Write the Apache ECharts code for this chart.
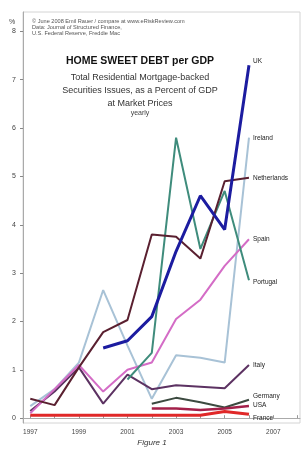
<!DOCTYPE html>
<html>
<head>
<meta charset="utf-8">
<script src="https://cdn.jsdelivr.net/npm/echarts@6/dist/echarts.min.js"></script>
<style>
html,body{margin:0;padding:0;background:#fff;}
#chart{width:308px;height:450px;}
</style>
</head>
<body>
<div id="chart"></div>
<script>
// years on the x axis
var years = [1997, 1998, 1999, 2000, 2001, 2002, 2003, 2004, 2005, 2006];
var xTicks = [1997, 1999, 2001, 2003, 2005, 2007];
var yTicks = [0, 1, 2, 3, 4, 5, 6, 7, 8];

// MBS issues, % of GDP
var uk          = [null, null, null, 1.45, 1.6, 2.1, 3.45, 4.6, 3.9, 7.3];
var ireland     = [0.25, 0.6, 1.15, 2.65, 1.5, 0.4, 1.3, 1.25, 1.15, 5.8];
var netherlands = [0.4, 0.27, 1.05, 1.78, 2.03, 3.8, 3.75, 3.3, 4.9, 4.97];
var spain       = [0.1, 0.6, 1.1, 0.55, 1.0, 1.15, 2.05, 2.45, 3.15, 3.7];
var portugal    = [null, null, null, null, 0.8, 1.35, 5.8, 3.5, 4.7, 2.85];
var italy       = [0.15, 0.55, 1.05, 0.3, 0.9, 0.6, 0.68, 0.65, 0.62, 1.1];
var germany     = [null, null, null, null, null, 0.3, 0.42, 0.33, 0.22, 0.38];
var usa         = [null, null, null, null, null, 0.2, 0.2, 0.17, 0.2, 0.25];
var france      = [0.06, 0.06, 0.06, 0.06, 0.06, 0.06, 0.06, 0.06, 0.14, 0.08];

function pairs(vals){
	var out = [];
	for (var i = 0; i < years.length; i++){
		if (vals[i] != null) out.push([years[i], vals[i]]);
	}
	return out;
}

function line(name, vals, color, width, lblOffset){
	return {
		name: name,
		type: 'line',
		data: pairs(vals),
		symbol: 'none',
		smooth: false,
		z: width > 2.5 ? 5 : 3,
		lineStyle: {color: color, width: width},
		endLabel: {
			show: true,
			formatter: '{a}',
			fontSize: 6.5,
			fontFamily: 'Liberation Sans',
			color: '#222',
			distance: 4,
			offset: lblOffset || [0, 0]
		}
	};
}

var chart = echarts.init(document.getElementById('chart'));

var option = {
	backgroundColor: '#fff',
	animation: false,
	grid: {
		left: 23, right: 8, top: 12, bottom: 27,
		show: true, borderColor: '#d4d4d4', borderWidth: 1
	},
	xAxis: {
		type: 'value',
		min: 1996.7,
		max: 2008.1,
		splitLine: {show: false},
		axisLine: {show: true, lineStyle: {color: '#aaa'}},
		axisTick: {show: true, length: 3, inside: true, customValues: [1997,1998,1999,2000,2001,2002,2003,2004,2005,2006,2007,2008], lineStyle: {color: '#999'}},
		axisLabel: {
			customValues: xTicks,
			formatter: function(v){ return String(v); },
			fontSize: 6.5,
			color: '#444',
			margin: 6,
			fontFamily: 'Liberation Sans'
		}
	},
	yAxis: {
		type: 'value',
		min: -0.1,
		max: 8.4,
		splitLine: {show: false},
		axisLine: {show: true, lineStyle: {color: '#aaa'}},
		axisTick: {show: true, length: 3, customValues: yTicks, lineStyle: {color: '#888'}},
		axisLabel: {
			customValues: yTicks,
			fontSize: 7,
			color: '#444',
			margin: 7,
			fontFamily: 'Liberation Sans'
		}
	},
	graphic: [
		{type: 'text', left: 9, top: 19, style: {text: '%', fontSize: 7, fill: '#444', fontFamily: 'Liberation Sans'}},
		{type: 'text', left: 32, top: 18, style: {
			text: '© June 2008 Emil Rauer / compare at www.eRiskReview.com\nData: Journal of Structured Finance,\nU.S. Federal Reserve, Freddie Mac',
			fontSize: 5.6, lineHeight: 6, fill: '#555', fontFamily: 'Liberation Sans'}},
		{type: 'text', x: 140, y: 56, style: {
			text: 'HOME SWEET DEBT per GDP', fontSize: 10.5, fontWeight: 'bold',
			fill: '#111', align: 'center', fontFamily: 'Liberation Sans'}},
		{type: 'text', x: 140, y: 71, style: {
			text: 'Total Residential Mortgage-backed\nSecurities Issues, as a Percent of GDP\nat Market Prices',
			fontSize: 9, lineHeight: 13, fill: '#333', align: 'center', fontFamily: 'Liberation Sans'}},
		{type: 'text', x: 140, y: 110, style: {
			text: 'yearly', fontSize: 7, fill: '#444', align: 'center', fontFamily: 'Liberation Sans'}},
		{type: 'text', x: 152, y: 439, style: {
			text: 'Figure 1', fontSize: 8, fontStyle: 'italic', fill: '#333', align: 'center', fontFamily: 'Liberation Sans'}}
	],
	series: [
		line('Ireland', ireland, '#a8c2d6', 2),
		line('Italy', italy, '#5c3262', 2),
		line('Spain', spain, '#d46cc6', 2),
		line('Portugal', portugal, '#3f8c7c', 2, [0, 2]),
		line('Netherlands', netherlands, '#5a2030', 2),
		line('Germany', germany, '#3c4a40', 2, [0, -4]),
		line('USA', usa, '#a3204a', 2.5, [0, -1]),
		line('France', france, '#e02828', 3, [0, 4]),
		line('UK', uk, '#1c1ca0', 3, [0, -4])
	]
};

chart.setOption(option);
</script>
</body>
</html>
